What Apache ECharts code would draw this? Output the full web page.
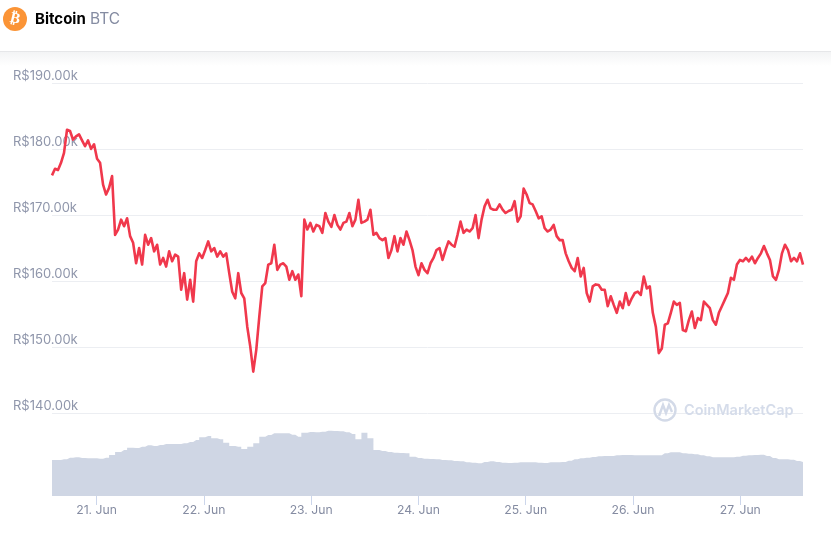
<!DOCTYPE html>
<html>
<head>
<meta charset="utf-8">
<style>html,body{margin:0;padding:0;background:#fff}#c{width:831px;height:534px}</style>
<script src="https://cdn.jsdelivr.net/npm/echarts@6/dist/echarts.min.js"></script>
</head>
<body>
<div id="c"></div>
<script>
// Price in thousands of R$ at even time steps
const priceK = [
176.0,177.0,176.8,177.9,179.4,182.9,182.7,181.4,181.9,182.2,181.3,180.4,181.3,180.0,180.7,178.5,177.9,174.6,173.1,174.1,175.9,
167.0,167.8,169.3,168.3,169.5,166.8,165.8,162.7,165.0,162.5,167.0,165.5,166.5,164.5,165.5,162.5,163.5,162.2,164.5,163.0,164.0,163.7,
158.7,161.2,157.2,160.2,156.9,163.0,164.2,163.5,164.7,166.0,164.5,165.0,163.7,164.5,163.7,164.2,161.2,158.4,157.4,161.2,158.2,157.4,
153.1,150.1,146.3,149.6,154.6,159.2,159.7,162.5,162.7,165.5,161.7,162.5,162.7,162.2,160.2,161.5,160.2,161.0,157.7,
169.3,167.8,168.8,167.5,168.5,168.3,167.3,170.3,169.0,168.2,170.0,168.5,167.8,168.8,169.0,170.3,168.3,169.3,172.3,168.8,169.0,169.3,170.8,
167.0,167.3,166.5,166.2,166.5,163.5,164.7,166.8,164.5,166.5,165.5,167.5,166.2,164.7,162.2,160.9,162.7,161.7,161.2,162.7,163.5,164.7,165.0,
163.2,164.7,166.0,165.5,165.2,167.0,169.0,167.3,167.8,167.5,168.0,170.0,166.5,169.3,171.3,172.3,171.0,170.8,170.8,171.6,170.8,170.3,170.6,170.8,172.1,
169.0,169.8,174.0,173.1,171.8,171.6,170.6,169.5,169.8,168.0,167.5,167.8,168.5,166.8,166.2,166.2,164.2,
163.0,162.0,161.5,163.5,160.7,162.0,158.2,156.9,159.2,159.5,159.4,158.7,158.7,156.2,157.7,156.4,155.2,156.9,155.9,158.2,156.4,157.4,158.2,158.4,157.9,160.7,158.9,159.2,
155.2,153.1,149.1,149.8,153.4,153.6,155.2,156.9,156.4,156.7,152.6,152.4,154.1,155.4,152.9,154.4,154.1,156.9,156.4,155.9,154.1,153.4,155.2,156.2,157.2,158.2,
160.5,160.2,162.5,163.2,163.0,163.5,163.0,163.7,162.7,163.5,164.2,165.3,164.2,163.2,160.7,160.2,161.7,164.2,165.5,164.7,163.0,163.5,163.0,164.2,162.5
];
// Volume, relative height units, one reading for every second price reading
const volume = [
108,108,110,115,116,114,113,113,112,115,123,132,138,145,144,148,152,150,153,156,156,156,158,162,168,176,180,173,170,160,150,148,141,148,158,178,183,188,188,188,184,178,190,192,191,193,196,195,194,191,186,170,190,173,138,135,132,130,129,128,118,114,
112,111,110,108,107,105,104,101,100,98,102,104,102,100,99,100,101,101,101,100,99,101,101,102,106,110,113,115,117,119,120,120,122,123,123,122,122,122,122,122,128,131,131,128,127,125,122,119,116,116,116,116,118,121,122,123,124,120,114,110,110,109,105,102
];
const priceTicksK = [140,150,160,170,180,190];
const dayLabels = [21,22,23,24,25,26,27];

const startTime = new Date(2021,5,20,14,2).getTime();
const endTime = startTime + 7*24*3600*1000;
const stepMs = (endTime-startTime)/(priceK.length-1);
const priceData = priceK.map((v,i)=>[startTime+i*stepMs,v]);
const volData = volume.map((v,i)=>[startTime+i*2*stepMs,v]);
const dayTicks = dayLabels.map(d=>new Date(2021,5,d).getTime());

const grey='#858ca2', font='Inter, "Noto Sans", sans-serif';
const chart = echarts.init(document.getElementById('c'),null,{renderer:'canvas'});
chart.setOption({
  animation:false,
  backgroundColor:'#fff',
  grid:[
    {left:52,right:28,top:82.8,height:330.5},
    {left:52,right:28,top:426,height:70}
  ],
  xAxis:[
    {type:'value',gridIndex:0,min:startTime,max:endTime,show:false,scale:true},
    {type:'value',gridIndex:1,min:startTime,max:endTime,scale:true,
     axisLine:{show:false},splitLine:{show:false},
     axisTick:{show:true,length:9,customValues:dayTicks,lineStyle:{color:'#ccd6eb',width:1}},
     axisLabel:{show:true,customValues:dayTicks,margin:8,color:grey,fontFamily:font,fontSize:12.2,
       hideOverlap:false,formatter:v=>new Date(v).getDate()+'. Jun'}}
  ],
  yAxis:[
    {type:'value',gridIndex:0,min:priceTicksK[0],max:priceTicksK[priceTicksK.length-1],interval:10,
     axisLine:{show:false},axisTick:{show:false},
     splitLine:{show:true,lineStyle:{color:'#eceef2',width:1}},
     axisLabel:{show:true,align:'left',verticalAlign:'bottom',margin:39,color:'#8f96ab',fontFamily:font,fontSize:13,
       lineHeight:14,formatter:v=>'R$'+v+'.00k'}},
    {type:'value',gridIndex:1,min:0,max:210,show:false,splitLine:{show:false}}
  ],
  series:[
    {type:'line',xAxisIndex:1,yAxisIndex:1,data:volData,symbol:'none',silent:true,step:'middle',
     lineStyle:{width:0},areaStyle:{color:'#cfd6e4',opacity:1},z:1},
    {type:'line',xAxisIndex:0,yAxisIndex:0,data:priceData,symbol:'none',silent:true,
     lineStyle:{color:'#f0384c',width:2.6,join:'round'},z:3}
  ],
  graphic:[
    {type:'rect',shape:{x:0,y:52,width:831,height:14},z:10,silent:true,
     style:{fill:new echarts.graphic.LinearGradient(0,0,0,1,[{offset:0,color:'#f3f4f5'},{offset:1,color:'#ffffff'}])}},
    {type:'rect',shape:{x:0,y:51,width:831,height:1},z:10,silent:true,style:{fill:'#e6e7e9'}},
    {type:'circle',shape:{cx:15,cy:19,r:12},z:11,silent:true,style:{fill:'#fb9436'}},
    {type:'text',x:15,y:19,rotation:-0.24,z:12,silent:true,
     style:{text:'₿',fill:'#fff',font:'bold 15px "DejaVu Sans"',align:'center',verticalAlign:'middle'}},
    {type:'text',x:35,y:19.5,z:11,silent:true,
     style:{text:'Bitcoin',fill:'#000',font:'700 15px '+font,verticalAlign:'middle'}},
    {type:'text',x:90,y:19.5,z:11,silent:true,
     style:{text:'BTC',fill:grey,font:'400 15.5px '+font,verticalAlign:'middle'}},
    {type:'circle',shape:{cx:665,cy:410,r:10.5},z:11,silent:true,style:{fill:'none',stroke:'#d3dae8',lineWidth:2.4}},
    {type:'polyline',shape:{points:[[659,416],[663,405],[666,413],[669,405],[672,412]]},z:11,silent:true,
     style:{fill:'none',stroke:'#d3dae8',lineWidth:2.4}},
    {type:'text',x:684,y:411,z:11,silent:true,
     style:{text:'CoinMarketCap',fill:'#d5dcea',font:'600 14.5px '+font,verticalAlign:'middle'}}
  ]
});
</script>
</body>
</html>
